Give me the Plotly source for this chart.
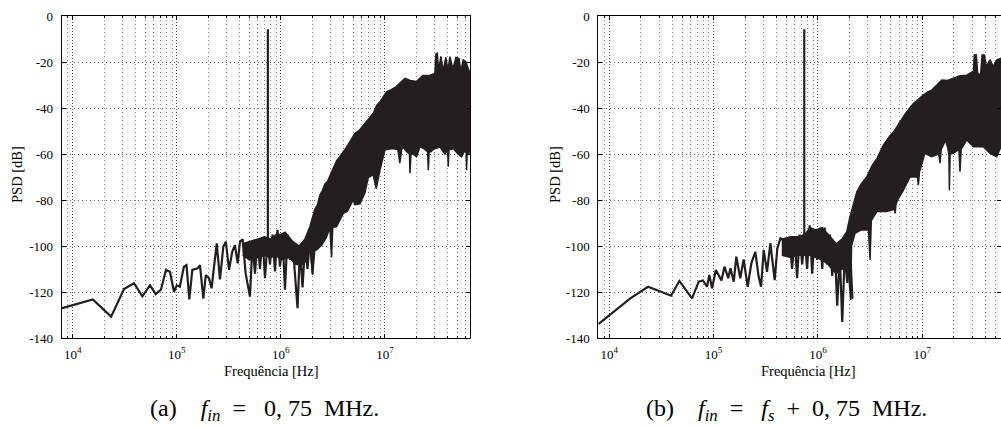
import plotly.graph_objects as go

# ---------------- (a) f_in = 0,75 MHz ----------------
freq_a_low = [7.8e3, 1.56e4, 2.34e4, 3.11e4, 3.88e4, 4.67e4, 5.53e4, 6.27e4, 7.05e4, 7.87e4,
              8.6e4, 9.4e4, 1.0e5, 1.07e5, 1.17e5, 1.24e5, 1.32e5, 1.41e5, 1.59e5, 1.67e5,
              1.8e5, 1.9e5, 2.04e5, 2.16e5, 2.42e5, 2.6e5, 2.8e5, 2.96e5, 3.18e5, 3.41e5,
              3.62e5, 3.85e5, 4.05e5, 4.3e5, 4.59e5, 5.05e5, 5.34e5, 5.64e5, 5.96e5, 6.3e5,
              6.66e5, 7.04e5, 7.44e5, 7.86e5, 8.31e5, 8.78e5, 9.28e5, 9.81e5, 1.037e6, 1.096e6,
              1.158e6, 1.224e6, 1.294e6, 1.368e6, 1.446e6, 1.528e6, 1.615e6, 1.707e6, 1.804e6, 1.907e6,
              2.016e6]
psd_a_low = [-127.1, -123.2, -130.7, -118.7, -116.2, -121.9, -117.1, -120.9, -119.0, -110.4,
             -111.2, -119.9, -117.1, -117.7, -109.0, -108.3, -123.2, -110.4, -109.7, -108.3,
             -122.9, -112.6, -114.0, -118.4, -98.8, -114.5, -100.3, -98.1, -110.4, -102.5,
             -99.6, -107.5, -98.1, -97.1, -111.9, -122.0, -99, -112, -97, -110,
             -96, -114, -98, -108, -95, -111, -93, -109, -96, -119,
             -95, -106, -98, -112, -127, -101, -118, -100, -110, -96,
             -112]

freq_a_top = [4.3e5, 5.0e5, 6.0e5, 7.0e5, 8.0e5, 9.0e5, 1.0e6, 1.1e6, 1.3e6, 1.5e6,
              1.7e6, 1.9e6, 2.0e6, 2.12e6, 2.25e6, 2.37e6, 2.5e6, 2.65e6, 2.8e6, 2.96e6,
              3.2e6, 3.43e6, 3.69e6, 4.0e6, 4.28e6, 4.7e6, 5.15e6, 5.6e6, 6.19e6, 6.9e6,
              7.73e6, 8.3e6, 8.96e6, 9.6e6, 1.04e7, 1.15e7, 1.29e7, 1.4e7, 1.56e7, 1.75e7,
              2.01e7, 2.3e7, 2.71e7, 3.02e7, 3.09e7, 3.19e7, 3.27e7, 3.45e7, 3.61e7, 3.85e7,
              4.03e7, 4.21e7, 4.5e7, 4.81e7, 5.14e7, 5.37e7, 5.65e7, 6.0e7, 6.56e7]
psd_a_top = [-99, -98, -97, -96, -97, -95, -95, -94, -98, -100,
             -97, -91.6, -88, -84, -82, -77.8, -76, -73, -72, -69.5,
             -66, -63, -61, -59, -57, -54, -51, -50, -47.4, -45,
             -42.3, -39, -37.3, -35, -32.9, -32, -30.7, -29, -27.1, -28,
             -28.5, -26, -25.7, -25, -16.5, -16.2, -24, -17.5, -24, -18,
             -24, -17.7, -23, -18, -18.4, -24, -19.1, -20, -24.9]

freq_a_bot = [4.3e5, 5.0e5, 6.0e5, 7.0e5, 8.0e5, 9.0e5, 1.0e6, 1.2e6, 1.4e6, 1.6e6,
              1.8e6, 1.9e6, 2.02e6, 2.12e6, 2.21e6, 2.47e6, 2.75e6, 2.96e6, 3.07e6, 3.15e6,
              3.43e6, 3.98e6, 4.35e6, 4.96e6, 5.15e6, 5.75e6, 6.43e6, 6.92e6, 7.7e6, 8.25e6,
              8.96e6, 1.0e7, 1.16e7, 1.33e7, 1.39e7, 1.45e7, 1.49e7, 1.62e7, 1.72e7, 1.74e7,
              1.78e7, 1.86e7, 2.01e7, 2.17e7, 2.42e7, 2.57e7, 2.61e7, 2.66e7, 2.77e7, 2.91e7,
              3.38e7, 3.77e7, 4.0e7, 4.06e7, 4.12e7, 4.32e7, 4.53e7, 5.03e7, 5.46e7, 5.76e7,
              6.03e7, 6.09e7, 6.16e7, 6.36e7, 6.56e7]
psd_a_bot = [-104, -106, -105, -104, -105, -104, -106, -105, -108, -108,
             -106, -100, -112.6, -102, -101.7, -99.6, -96, -92, -105, -92,
             -91.6, -85.8, -85, -80, -82, -81.7, -76.8, -70.3, -69, -75,
             -67, -58.3, -57.6, -58, -64, -58, -57, -59, -60, -68.4,
             -60, -60, -61.2, -56.8, -58, -59, -67, -59, -59, -58,
             -57, -60, -58, -65.5, -58, -58, -57.6, -60, -61.2, -59,
             -59, -67, -60, -60, -59]

tone_a_freq = 7.5e5
tone_a_psd = [-100, -5.8]

# ---------------- (b) f_in = f_s + 0,75 MHz ----------------
freq_b_low = [7.9e3, 1.59e4, 2.35e4, 3.91e4, 4.69e4, 6.21e4, 7.2e4, 7.91e4, 8.64e4, 9.1e4,
              9.66e4, 1.05e5, 1.19e5, 1.27e5, 1.38e5, 1.45e5, 1.56e5, 1.65e5, 1.8e5, 1.94e5,
              2.12e5, 2.3e5, 2.51e5, 2.7e5, 2.85e5, 3.02e5, 3.25e5, 3.5e5, 3.85e5, 4.08e5,
              4.37e5, 4.7e5, 5.06e5, 5.35e5, 5.65e5, 5.98e5, 6.32e5, 6.68e5, 7.06e5, 7.46e5,
              7.88e5, 8.33e5, 8.81e5, 9.31e5, 9.84e5, 1.04e6, 1.1e6, 1.16e6, 1.23e6, 1.3e6,
              1.37e6, 1.45e6, 1.53e6, 1.62e6, 1.71e6, 1.81e6, 1.91e6, 2.02e6, 2.14e6]
psd_b_low = [-133.9, -122.8, -117.7, -121.6, -115.2, -122.8, -115.5, -115.0, -117.7, -112.6,
             -118.4, -110.4, -115.0, -109.0, -114.0, -109.7, -115.5, -104.6, -114.0, -105.8,
             -117.7, -107.5, -102.5, -113.3, -117.7, -101.7, -111.2, -98.8, -114.8, -101.0,
             -96.7, -97.4, -102.5, -96, -110, -97, -114, -95, -108, -97,
             -110, -91, -112, -94, -106, -93, -110, -92, -108, -95,
             -113, -100, -126, -104, -133, -103, -116, -98, -123]

freq_b_top = [4.5e5, 5.5e5, 6.5e5, 7.5e5, 8.4e5, 9.5e5, 1.1e6, 1.25e6, 1.5e6, 1.7e6,
              1.89e6, 2.03e6, 2.2e6, 2.36e6, 2.6e6, 2.94e6, 3.3e6, 3.67e6, 3.95e6, 4.24e6,
              4.9e6, 5.4e6, 6.12e6, 7.0e6, 8.22e6, 9.2e6, 1.03e7, 1.13e7, 1.23e7, 1.38e7,
              1.54e7, 1.75e7, 1.99e7, 2.3e7, 2.67e7, 3.1e7, 3.15e7, 3.3e7, 3.4e7, 3.62e7,
              3.75e7, 3.95e7, 4.1e7, 4.47e7, 4.8e7, 5.18e7, 5.69e7, 6.56e7]
psd_b_top = [-97, -96, -96, -95, -92, -93, -92, -95, -99, -97,
             -93.8, -87.3, -82, -76.4, -73, -69.9, -65, -62, -59, -56.1,
             -52, -50, -46, -42, -38, -36, -34.3, -33, -32.2, -30,
             -27.8, -28, -27.1, -26, -25.7, -24, -17, -17, -25, -25.7,
             -17, -17, -22, -19.1, -22, -19.1, -18.4, -20]

freq_b_bot = [4.5e5, 5.5e5, 6.5e5, 7.5e5, 8.4e5, 9.5e5, 1.1e6, 1.25e6, 1.5e6, 1.7e6,
              1.95e6, 2.06e6, 2.1e6, 2.27e6, 2.6e6, 3.05e6, 3.16e6, 3.25e6, 3.67e6, 4.57e6,
              5.4e6, 5.5e6, 5.6e6, 5.8e6, 6.6e6, 7.64e6, 9.0e6, 9.18e6, 9.4e6, 1.06e7,
              1.23e7, 1.44e7, 1.48e7, 1.52e7, 1.6e7, 1.66e7, 1.75e7, 1.8e7, 1.82e7, 1.85e7,
              1.99e7, 2.25e7, 2.3e7, 2.36e7, 2.45e7, 2.67e7, 3.09e7, 3.85e7, 4.47e7, 5.18e7,
              5.69e7, 6.56e7]
psd_b_bot = [-104, -105, -104, -104, -104, -105, -106, -108, -112, -110,
             -110, -123.5, -100, -94.5, -93, -93, -106, -89, -85, -85,
             -84, -85.8, -82, -80, -75.7, -70, -70, -73.5, -68, -59.7,
             -61.2, -60, -64, -58, -56, -53.9, -57, -60, -75.7, -60,
             -59.7, -58, -67.7, -58, -57, -53.9, -56.8, -56.8, -59.7, -61.2,
             -56.8, -58]

tone_b_freq = 7.4e5
tone_b_psd = [-100, -5.8]

# axis ticks / labels
y_ticks = [0, -20, -40, -60, -80, -100, -120, -140]
y_labels = ['0', '-20', '-40', '-60', '-80', '-100', '-120', '-140']
x_ticks = [1e4, 1e5, 1e6, 1e7]
x_labels = ['10<sup>4</sup>', '10<sup>5</sup>', '10<sup>6</sup>', '10<sup>7</sup>']
x_minor = [m * 10 ** k for k in range(3, 8) for m in range(2, 10)]

ink = '#231f20'
font = 'Liberation Serif'

fig = go.Figure()


def add_panel(xa, ya, f_low, p_low, f_top, p_top, f_bot, p_bot, tone_f, tone_p):
    fig.add_trace(go.Scatter(
        x=f_top + f_bot[::-1], y=p_top + p_bot[::-1], xaxis=xa, yaxis=ya,
        mode='lines', fill='toself', fillcolor=ink,
        line=dict(color=ink, width=1.5), hoverinfo='skip'))
    fig.add_trace(go.Scatter(
        x=f_low, y=p_low, xaxis=xa, yaxis=ya, mode='lines',
        line=dict(color=ink, width=2.2)))
    fig.add_trace(go.Scatter(
        x=[tone_f, tone_f], y=tone_p, xaxis=xa, yaxis=ya, mode='lines',
        line=dict(color=ink, width=2.2)))


add_panel('x', 'y', freq_a_low, psd_a_low, freq_a_top, psd_a_top,
          freq_a_bot, psd_a_bot, tone_a_freq, tone_a_psd)
add_panel('x2', 'y2', freq_b_low, psd_b_low, freq_b_top, psd_b_top,
          freq_b_bot, psd_b_bot, tone_b_freq, tone_b_psd)

xaxis_common = dict(
    type='log', tickmode='array', tickvals=x_ticks, ticktext=x_labels, automargin=False,
    ticks='inside', ticklen=4, tickcolor='black', showline=True, linecolor='black',
    linewidth=1, mirror='ticks', showgrid=True, gridcolor='#444',
    griddash='1px,2px', gridwidth=1, zeroline=False, ticklabelstandoff=4,
    tickfont=dict(family=font, size=13, color='black'),
    minor=dict(tickmode='array', tickvals=x_minor, ticks='inside', ticklen=2,
               tickcolor='black', showgrid=True, gridcolor='#888',
               griddash='1px,3px', gridwidth=1),
)
yaxis_common = dict(
    range=[-140, 0], tickmode='array', tickvals=y_ticks, ticktext=y_labels, automargin=False,
    ticks='inside', ticklen=4, tickcolor='black', showline=True, linecolor='black',
    linewidth=1, mirror='ticks', showgrid=True, gridcolor='#666',
    griddash='1px,3px', gridwidth=1, zeroline=False, ticklabelstandoff=5,
    tickfont=dict(family=font, size=13, color='black'),
)

fig.update_layout(
    width=1001, height=427,
    margin=dict(l=0, r=0, t=0, b=0, autoexpand=False),
    paper_bgcolor='white', plot_bgcolor='white',
    showlegend=False,
    xaxis=dict(xaxis_common, domain=[0.0616, 0.4695], range=[3.894, 7.817], anchor='y'),
    yaxis=dict(yaxis_common, domain=[0.2084, 0.9625], anchor='x'),
    xaxis2=dict(xaxis_common, domain=[0.5977, 1.0], range=[3.8945, 7.755], anchor='y2'),
    yaxis2=dict(yaxis_common, domain=[0.2084, 0.9625], anchor='x2'),
)

annotations = [
    dict(text='Frequência [Hz]', x=271, y=371),
    dict(text='Frequência [Hz]', x=808, y=371),
    dict(text='PSD [dB]', x=17, y=175, textangle=-90),
    dict(text='PSD [dB]', x=555, y=175, textangle=-90),
]
for a in annotations:
    fig.add_annotation(
        text=a['text'], x=a['x'] / 1001, y=1 - a['y'] / 427, xref='paper', yref='paper',
        showarrow=False, textangle=a.get('textangle', 0),
        font=dict(family=font, size=14.5, color='black'), xanchor='center', yanchor='middle')

captions = [
    ('(a)&nbsp;&nbsp;&nbsp;&nbsp;<i>f</i><sub><i>in</i></sub>&nbsp;&nbsp;=&nbsp;&nbsp;&nbsp;0,&nbsp;75&nbsp;&nbsp;MHz.', 264),
    ('(b)&nbsp;&nbsp;&nbsp;&nbsp;<i>f</i><sub><i>in</i></sub>&nbsp;&nbsp;=&nbsp;&nbsp;&nbsp;<i>f</i><sub><i>s</i></sub>'
     '&nbsp;&nbsp;+&nbsp;&nbsp;0,&nbsp;75&nbsp;&nbsp;MHz.', 786),
]
for text, cx in captions:
    fig.add_annotation(
        text=text, x=cx / 1001, y=1 - 410 / 427, xref='paper', yref='paper',
        showarrow=False, font=dict(family=font, size=24, color='black'),
        xanchor='center', yanchor='middle')

fig.write_html('out.html', config={'displayModeBar': False},
               post_script="document.body.style.margin='0';")
